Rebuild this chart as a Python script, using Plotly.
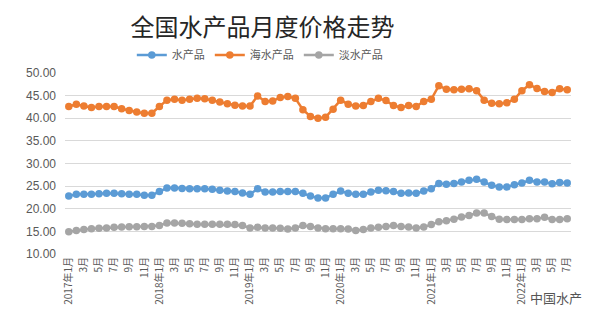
import plotly.graph_objects as go

months = []
for y in range(2017, 2023):
    for m in range(1, 13):
        if y == 2022 and m > 7:
            break
        months.append((y, m))

tick_labels = [f"{y}年{m}月" if m == 1 else f"{m}月" for (y, m) in months]

aquatic = [22.8, 23.2, 23.2, 23.2, 23.3, 23.4, 23.4, 23.3, 23.2, 23.2, 23.0, 23.0,
           23.8, 24.6, 24.6, 24.5, 24.4, 24.4, 24.4, 24.3, 24.1, 23.9, 23.8, 23.5,
           23.2, 24.4, 23.7, 23.7, 23.8, 23.8, 23.8, 23.4, 22.8, 22.4, 22.4, 23.2,
           23.9, 23.4, 23.2, 23.2, 23.7, 24.1, 24.0, 23.8, 23.4, 23.5, 23.4, 23.9,
           24.4, 25.6, 25.4, 25.6, 25.9, 26.3, 26.5, 25.9, 25.2, 24.8, 24.8, 25.3,
           25.7, 26.3, 25.9, 25.9, 25.5, 25.8, 25.7]

seawater = [42.6, 43.1, 42.7, 42.4, 42.6, 42.6, 42.6, 42.1, 41.7, 41.4, 41.1, 41.1,
            42.6, 44.0, 44.2, 44.0, 44.2, 44.4, 44.3, 44.0, 43.6, 43.2, 42.9, 42.7,
            42.7, 44.9, 43.7, 43.8, 44.6, 44.8, 44.4, 41.9, 40.4, 40.0, 40.2, 42.0,
            44.0, 43.1, 42.7, 42.8, 43.7, 44.4, 43.9, 42.8, 42.4, 42.8, 42.6, 43.7,
            44.2, 47.2, 46.4, 46.3, 46.4, 46.5, 46.1, 44.0, 43.3, 43.2, 43.4, 44.2,
            46.1, 47.4, 46.6, 45.9, 45.7, 46.5, 46.3]

freshwater = [14.9, 15.2, 15.4, 15.6, 15.7, 15.75, 15.9, 15.95, 16.0, 16.0, 16.05, 16.1,
              16.3, 16.85, 16.85, 16.8, 16.7, 16.6, 16.55, 16.55, 16.55, 16.55, 16.5, 16.3,
              15.75, 15.9, 15.75, 15.75, 15.7, 15.5, 15.75, 16.3, 16.1, 15.75, 15.6, 15.6,
              15.6, 15.5, 15.2, 15.4, 15.75, 15.9, 16.1, 16.3, 16.1, 15.95, 15.75, 15.95,
              16.5, 17.1, 17.35, 17.7, 18.2, 18.5, 19.05, 19.05, 18.3, 17.7, 17.6, 17.6,
              17.6, 17.8, 17.8, 18.1, 17.6, 17.6, 17.8]

series_names = ["水产品", "海水产品", "淡水产品"]
series_colors = ["#5B9BD5", "#ED7D31", "#A5A5A5"]
series_values = [aquatic, seawater, freshwater]

x = list(range(len(months)))
tick_idx = [i for i, (y, m) in enumerate(months) if m % 2 == 1]

fig = go.Figure()
for name, color, vals in zip(series_names, series_colors, series_values):
    fig.add_trace(go.Scatter(
        x=x, y=vals, name=name, mode="lines+markers",
        line=dict(color=color, width=2.5),
        marker=dict(color=color, size=7.5),
    ))

fig.update_layout(
    width=594, height=323,
    margin=dict(l=65, r=23, t=73, b=69),
    paper_bgcolor="white", plot_bgcolor="white",
    title=dict(text="全国水产品月度价格走势", x=0.442, xanchor="center",
               y=0.915, yanchor="middle",
               font=dict(family="Noto Sans CJK SC", size=24, color="#262626")),
    legend=dict(orientation="h", x=0.385, xanchor="center", y=1.1, yanchor="middle",
                font=dict(family="Noto Sans CJK SC", size=11, color="#595959"),
                itemwidth=30, tracegroupgap=0, bgcolor="rgba(0,0,0,0)"),
    font=dict(family="Liberation Sans", color="#595959"),
    showlegend=True,
)

fig.update_xaxes(
    range=[-0.5, len(months) - 0.5],
    tickmode="array", tickvals=tick_idx,
    ticktext=[tick_labels[i] for i in tick_idx],
    tickangle=-90, tickfont=dict(family="Noto Sans CJK SC", size=10, color="#595959"),
    showgrid=False, zeroline=False, showline=False, ticks="",
)
fig.update_yaxes(
    range=[10, 50], tickmode="array", tickvals=[10, 15, 20, 25, 30, 35, 40, 45, 50],
    ticktext=[f"{v:.2f}" for v in [10, 15, 20, 25, 30, 35, 40, 45, 50]],
    tickfont=dict(family="Liberation Sans", size=12, color="#595959"),
    showgrid=True, gridcolor="#D9D9D9", gridwidth=1, zeroline=False, showline=False,
    ticks="", ticklabelstandoff=8,
)

fig.add_annotation(text="中国水产", x=(556 - 65) / 506, y=-(297 - 254) / 180.7,
                   xref="paper", yref="paper", showarrow=False,
                   xanchor="center", yanchor="middle",
                   font=dict(family="Noto Sans CJK SC", size=13, color="#555555"))

fig.write_html("out.html")
